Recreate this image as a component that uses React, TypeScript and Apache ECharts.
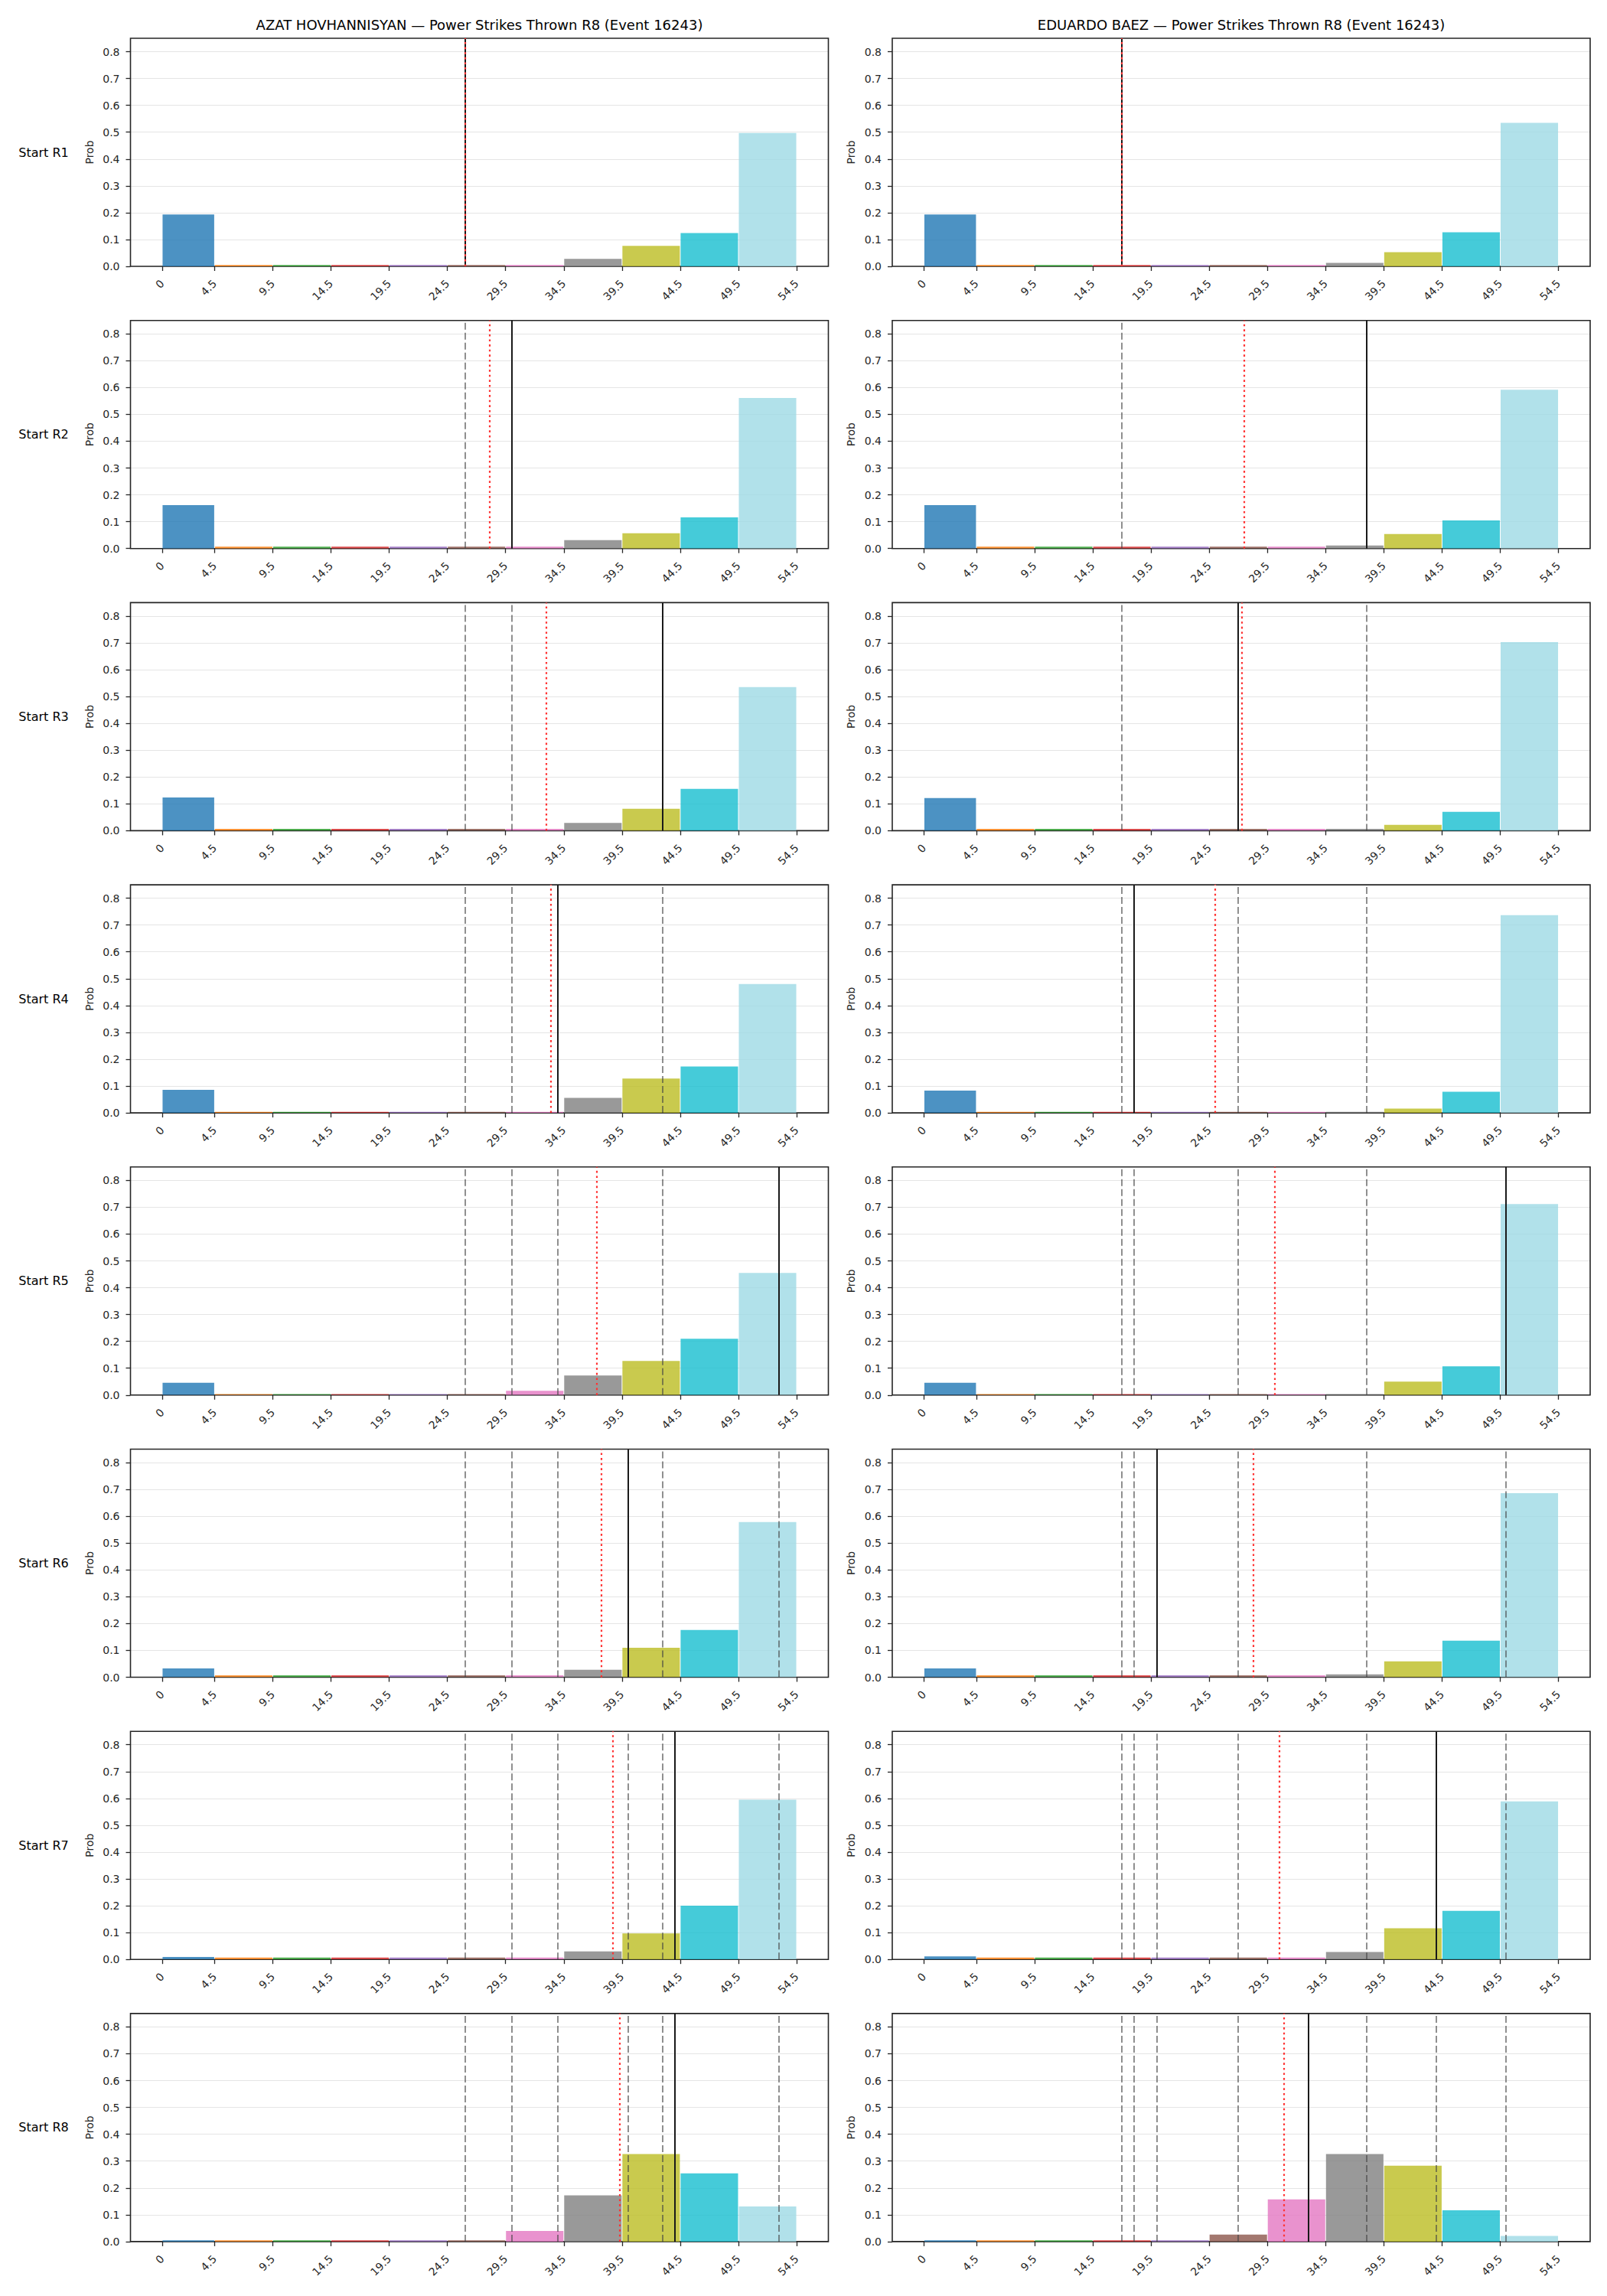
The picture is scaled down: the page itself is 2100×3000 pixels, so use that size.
import { useEffect, useRef } from "react";
import * as echarts from "echarts";

// Histogram bin edges (strikes thrown) and the tick labels along the x axis
const BIN_EDGES = [0, 4.5, 9.5, 14.5, 19.5, 24.5, 29.5, 34.5, 39.5, 44.5, 49.5, 54.5];
const Y_TICKS = [0, 0.1, 0.2, 0.3, 0.4, 0.5, 0.6, 0.7, 0.8];

const ROUND_LABELS = ["Start R1", "Start R2", "Start R3", "Start R4", "Start R5", "Start R6", "Start R7", "Start R8"];
const FIGHTERS = ["AZAT HOVHANNISYAN", "EDUARDO BAEZ"];
const TITLE_SUFFIX = " — Power Strikes Thrown R8 (Event 16243)";

// Per-round probability of each bin
const AZAT_PROBS = [
  [0.193, 0.005, 0.005, 0.005, 0.005, 0.005, 0.005, 0.028, 0.076, 0.124, 0.497],
  [0.162, 0.007, 0.007, 0.007, 0.007, 0.007, 0.007, 0.031, 0.057, 0.116, 0.561],
  [0.124, 0.007, 0.007, 0.007, 0.007, 0.007, 0.007, 0.029, 0.082, 0.156, 0.535],
  [0.086, 0.004, 0.004, 0.004, 0.004, 0.004, 0.004, 0.056, 0.128, 0.173, 0.48],
  [0.046, 0.004, 0.004, 0.004, 0.004, 0.004, 0.016, 0.073, 0.127, 0.21, 0.455],
  [0.033, 0.007, 0.007, 0.007, 0.007, 0.007, 0.007, 0.028, 0.11, 0.176, 0.578],
  [0.009, 0.007, 0.007, 0.007, 0.007, 0.007, 0.007, 0.03, 0.097, 0.2, 0.595],
  [0.005, 0.005, 0.005, 0.005, 0.005, 0.005, 0.04, 0.172, 0.326, 0.254, 0.131],
];
const BAEZ_PROBS = [
  [0.193, 0.005, 0.005, 0.005, 0.005, 0.005, 0.005, 0.013, 0.053, 0.127, 0.535],
  [0.162, 0.007, 0.007, 0.007, 0.007, 0.007, 0.007, 0.011, 0.054, 0.105, 0.592],
  [0.122, 0.007, 0.007, 0.007, 0.007, 0.007, 0.007, 0.007, 0.022, 0.07, 0.703],
  [0.083, 0.004, 0.004, 0.004, 0.004, 0.004, 0.004, 0.004, 0.016, 0.079, 0.737],
  [0.046, 0.004, 0.004, 0.004, 0.004, 0.004, 0.004, 0.004, 0.05, 0.107, 0.712],
  [0.033, 0.007, 0.007, 0.007, 0.007, 0.007, 0.007, 0.011, 0.059, 0.136, 0.686],
  [0.011, 0.007, 0.007, 0.007, 0.007, 0.007, 0.007, 0.028, 0.116, 0.181, 0.589],
  [0.005, 0.005, 0.005, 0.005, 0.005, 0.026, 0.157, 0.326, 0.283, 0.117, 0.021],
];

// Actual value per round (solid) and the model's expected value (dotted)
const AZAT_ACTUAL = [26, 30, 43, 34, 53, 40, 44, 44];
const BAEZ_ACTUAL = [17, 38, 27, 18, 50, 20, 44, 33];
const AZAT_EXPECTED = [26, 28.1, 33.0, 33.4, 37.3, 37.7, 38.7, 39.3];
const BAEZ_EXPECTED = [17, 27.5, 27.3, 25.0, 30.1, 28.3, 30.5, 30.9];

const BIN_COLORS = [
  "#1f77b4", "#ff7f0e", "#2ca02c", "#d62728", "#9467bd",
  "#8c564b", "#e377c2", "#7f7f7f", "#bcbd22", "#17becf", "#9edae5",
];

const FONT = "DejaVu Sans";
const INK = "#262626";

// Panel layout
const COL_LEFT = [170.5, 1166];
const PANEL_W = 912;
const PANEL_H = 298;
const ROW_TOP0 = 50;
const ROW_STEP = 368.7;

function withAlpha(hex: string, a: number): string {
  const n = parseInt(hex.slice(1), 16);
  return `rgba(${(n >> 16) & 255},${(n >> 8) & 255},${n & 255},${a})`;
}

export default function App() {
  const ref = useRef<HTMLDivElement>(null);

  useEffect(() => {
    document.body.style.margin = "0";
    const chart = echarts.init(ref.current!, null, { renderer: "svg" });

    const probsByFighter = [AZAT_PROBS, BAEZ_PROBS];
    const actualByFighter = [AZAT_ACTUAL, BAEZ_ACTUAL];
    const expectedByFighter = [AZAT_EXPECTED, BAEZ_EXPECTED];
    const fills = BIN_COLORS.map((c) => withAlpha(c, 0.8));

    const grids: any[] = [];
    const xAxes: any[] = [];
    const yAxes: any[] = [];
    const series: any[] = [];
    const graphics: any[] = [];

    for (let col = 0; col < 2; col++) {
      graphics.push({
        type: "text",
        x: COL_LEFT[col] + PANEL_W / 2,
        y: 32,
        style: {
          text: FIGHTERS[col] + TITLE_SUFFIX,
          fontSize: 18,
          fontFamily: FONT,
          fill: "#000",
          textAlign: "center",
          textVerticalAlign: "middle",
          align: "center",
          verticalAlign: "middle",
        },
      });
    }

    for (let row = 0; row < ROUND_LABELS.length; row++) {
      const top = ROW_TOP0 + row * ROW_STEP;
      graphics.push({
        type: "text",
        x: 57,
        y: top + PANEL_H / 2,
        style: {
          text: ROUND_LABELS[row],
          fontSize: 16,
          fontFamily: FONT,
          fill: "#000",
          textAlign: "center",
          textVerticalAlign: "middle",
          align: "center",
          verticalAlign: "middle",
        },
      });

      for (let col = 0; col < 2; col++) {
        const idx = grids.length;
        grids.push({
          left: COL_LEFT[col],
          top,
          width: PANEL_W,
          height: PANEL_H,
          show: true,
          borderColor: INK,
          borderWidth: 1.6,
          backgroundColor: "transparent",
          z: 1,
        });
        xAxes.push({
          type: "value",
          gridIndex: idx,
          position: "bottom",
          min: -2.725,
          max: 57.225,
          axisLine: { show: false, onZero: false },
          axisTick: {
            show: true,
            length: 6,
            customValues: BIN_EDGES,
            lineStyle: { color: INK, width: 1.3 },
          },
          axisLabel: {
            show: true,
            rotate: 45,
            margin: 20,
            fontSize: 14,
            fontFamily: FONT,
            color: INK,
            customValues: BIN_EDGES,
            formatter: (v: number) => String(v),
          },
          splitLine: { show: false },
        });
        yAxes.push({
          type: "value",
          gridIndex: idx,
          position: "left",
          min: 0,
          max: 0.85,
          interval: 0.1,
          name: "Prob",
          nameLocation: "middle",
          nameRotate: 90,
          nameGap: 47,
          nameTextStyle: { fontSize: 14, fontFamily: FONT, color: INK },
          axisLine: { show: false, onZero: false },
          axisTick: {
            show: true,
            length: 6,
            customValues: Y_TICKS,
            lineStyle: { color: INK, width: 1.3 },
          },
          axisLabel: {
            show: true,
            margin: 14,
            fontSize: 14,
            fontFamily: FONT,
            color: INK,
            customValues: Y_TICKS,
            formatter: (v: number) => v.toFixed(1),
          },
          splitLine: { show: true, lineStyle: { color: "#e5e5e5", width: 1.2 } },
        });

        const probs = probsByFighter[col][row];
        const actual = actualByFighter[col];
        const expected = expectedByFighter[col][row];

        // earlier rounds' actuals (dashed), this round's actual (solid), expectation (dotted)
        const lines: any[] = [];
        for (let k = 0; k < row; k++) {
          lines.push({
            xAxis: actual[k],
            lineStyle: { color: "#444444", width: 1.6, type: [9, 4], opacity: 0.75 },
          });
        }
        lines.push({ xAxis: actual[row], lineStyle: { color: "#1a1a1a", width: 2, type: "solid" } });
        lines.push({ xAxis: expected, lineStyle: { color: "#ff3333", width: 2.2, type: [2.6, 4] } });

        series.push({
          type: "custom",
          xAxisIndex: idx,
          yAxisIndex: idx,
          z: 2,
          data: probs.map((p, i) => [BIN_EDGES[i], BIN_EDGES[i + 1], p]),
          encode: { x: [0, 1], y: 2 },
          clip: true,
          renderItem: (params: any, api: any) => {
            const a = api.coord([api.value(0), api.value(2)]);
            const b = api.coord([api.value(1), 0]);
            // half-pixel inset on each side leaves a thin white seam between bins
            return {
              type: "rect",
              shape: { x: a[0] + 0.5, y: a[1], width: b[0] - a[0] - 1, height: b[1] - a[1] },
              style: { fill: fills[params.dataIndex] },
            };
          },
          markLine: {
            silent: true,
            symbol: ["none", "none"],
            label: { show: false },
            emphasis: { disabled: true },
            animation: false,
            data: lines,
          },
        });
      }
    }

    chart.setOption({
      animation: false,
      backgroundColor: "#ffffff",
      grid: grids,
      xAxis: xAxes,
      yAxis: yAxes,
      series,
      graphic: graphics,
    });

    return () => chart.dispose();
  }, []);

  return <div ref={ref} style={{ width: 2100, height: 3000 }} />;
}
